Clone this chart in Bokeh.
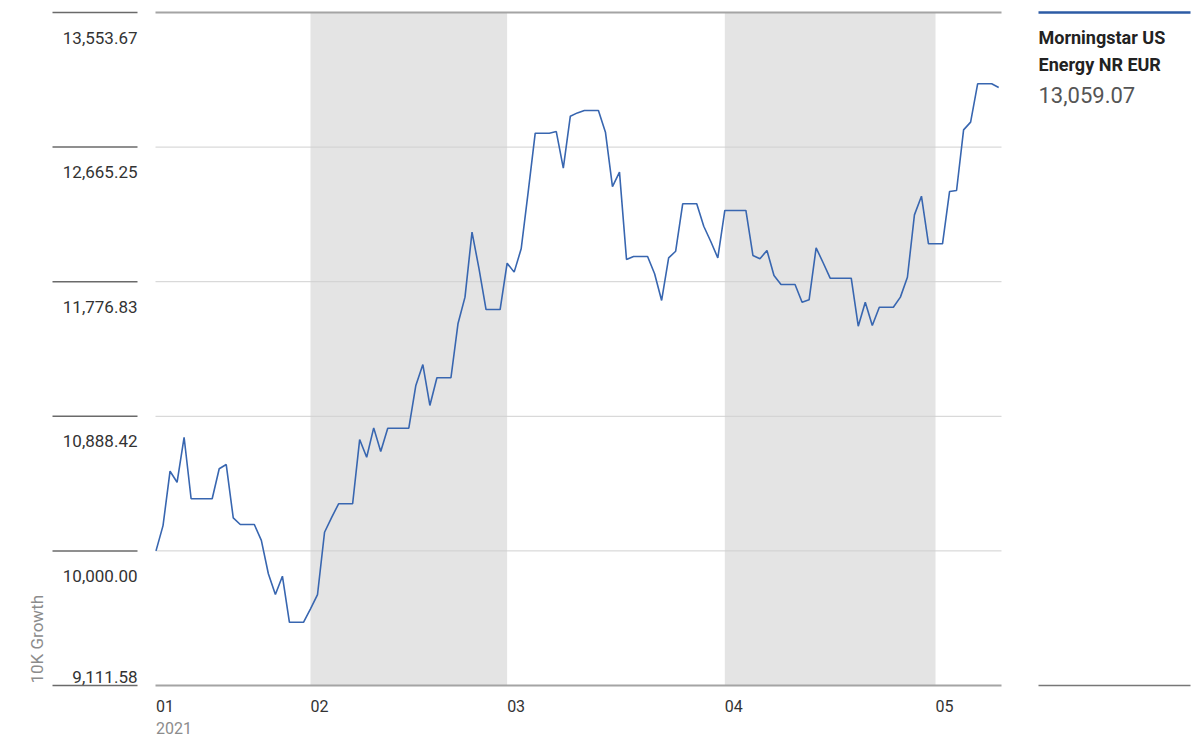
import numpy as np
import pandas as pd
from bokeh.plotting import figure
from bokeh.models import ColumnDataSource, Range1d
from bokeh.core.properties import value
from bokeh.embed import file_html
from bokeh.resources import INLINE

# ---------------- data ----------------
series_name_lines = ["Morningstar US", "Energy NR EUR"]
y_axis_title = "10K Growth"
start_date = "2021-01-10"
end_date = "2021-05-10"
# daily growth of 10K (calendar days, weekends/holidays carry the last value)
growth = [
    10000.00,
    10167, 10526, 10453, 10750, 10344, 10344, 10344,   # Jan 11-17
    10344, 10542, 10570, 10218, 10174, 10174, 10174,   # Jan 18-24
    10069, 9849, 9712, 9833, 9529, 9529, 9529,         # Jan 25-31
    9618, 9712, 10123, 10220, 10311, 10311, 10311,     # Feb 1-7
    10735, 10618, 10812, 10656, 10810, 10810, 10810,   # Feb 8-14
    10810, 11092, 11230, 10960, 11143, 11143, 11143,   # Feb 15-21
    11499, 11675, 12104, 11862, 11593, 11593, 11593,   # Feb 22-28
    11899, 11840, 11994, 12370, 12757, 12757, 12757,   # Mar 1-7
    12768, 12526, 12869, 12891, 12907, 12907, 12907,   # Mar 8-14
    12764, 12405, 12500, 11923, 11943, 11943, 11943,   # Mar 15-21
    11829, 11653, 11934, 11978, 12291, 12291, 12291,   # Mar 22-28
    12143, 12042, 11934, 12247, 12247, 12247, 12247,   # Mar 29-Apr 4
    11950, 11928, 11983, 11818, 11758, 11758, 11758,   # Apr 5-11
    11641, 11657, 12000, 11902, 11800, 11800, 11800,   # Apr 12-18
    11800, 11483, 11641, 11488, 11608, 11608, 11608,   # Apr 19-25
    11675, 11806, 12218, 12341, 12027, 12027, 12027,   # Apr 26-May 2
    12372, 12379, 12779, 12830, 13083, 13083, 13083,   # May 3-9
    13059.07,                                          # May 10
]
y_ticks = [9111.58, 10000.00, 10888.42, 11776.83, 12665.25, 13553.67]
month_starts = ["2021-01-01", "2021-02-01", "2021-03-01", "2021-04-01", "2021-05-01"]
month_labels = ["01", "02", "03", "04", "05"]
year_label = "2021"
shaded_months = [("2021-02-01", "2021-03-01"), ("2021-04-01", "2021-05-01")]

# ---------------- helpers ----------------
ORIGIN = pd.Timestamp("2021-01-01")


def to_day(d):
    return (pd.Timestamp(d) - ORIGIN).days


dates = pd.date_range(start_date, end_date, freq="D")
days = [(d - ORIGIN).days for d in dates]

# ---------------- layout (page pixels) ----------------
W, H, M = 1200, 736, 0
FONT = "Roboto"

# horizontal scale anchored on month boundaries
ax_d0, ax_p0 = to_day("2021-02-01"), 310 - M
ax_d1, ax_p1 = to_day("2021-05-01"), 935 - M
sx = (ax_p1 - ax_p0) / (ax_d1 - ax_d0)
x0 = ax_d0 - ax_p0 / sx
x1 = ax_d0 + (W - ax_p0) / sx

# vertical scale anchored on top / bottom ticks
y_hi, y_lo = max(y_ticks), min(y_ticks)
py_hi, py_lo = 12 - M, 685 - M
sy = (py_lo - py_hi) / (y_hi - y_lo)
y_top = y_hi + py_hi / sy
y_bot = y_lo - (H - py_lo) / sy


def px2x(px):
    return x0 + (px - M) / sx


def px2y(py):
    return y_top - (py - M) / sy


p = figure(width=W, height=H, x_range=Range1d(x0, x1), y_range=Range1d(y_bot, y_top),
           x_axis_type=None, y_axis_type=None, toolbar_location=None,
           output_backend="svg", min_border=0)
p.outline_line_color = None
p.background_fill_color = "white"
p.border_fill_color = "white"

gx0, gx1 = px2x(155), px2x(1001)

# shaded months
p.quad(left=[to_day(a) for a, b in shaded_months], right=[to_day(b) for a, b in shaded_months],
       bottom=y_lo, top=y_hi, fill_color="#e4e4e4", line_color=None)

# grid lines
mid = y_ticks[1:-1]
p.segment(x0=[gx0] * len(mid), x1=[gx1] * len(mid), y0=mid, y1=mid,
          line_color="#d0d0d0", line_width=1)
p.segment(x0=[gx0, gx0], x1=[gx1, gx1], y0=[y_hi, y_lo], y1=[y_hi, y_lo],
          line_color="#a4a4a4", line_width=2)

# short tick lines at the y labels
lx0, lx1 = px2x(52), px2x(137)
p.segment(x0=[lx0] * len(y_ticks), x1=[lx1] * len(y_ticks), y0=y_ticks, y1=y_ticks,
          line_color="#6a6a6a", line_width=1.5)

# y labels
ysrc = ColumnDataSource(dict(
    x=[lx1] * len(y_ticks), y=y_ticks,
    t=[f"{v:,.2f}" for v in y_ticks],
    off=[-9 if v == y_lo else 25 for v in y_ticks],
))
p.text(x="x", y="y", text="t", y_offset="off", source=ysrc, text_align="right",
       text_baseline="alphabetic", text_font=value(FONT), text_font_size="17px",
       text_color="#333333")

# y axis title
p.text(x=[px2x(36)], y=[px2y(683)], text=[y_axis_title], angle=np.pi / 2,
       text_align="left", text_baseline="middle", text_font=value(FONT),
       text_font_size="17px", text_color="#8c8c8c")

# x labels
first_day = days[0]
mx = [max(to_day(d), first_day) for d in month_starts]
p.text(x=mx, y=[y_lo] * len(mx), text=month_labels, y_offset=20, text_align="left",
       text_baseline="alphabetic", text_font=value(FONT), text_font_size="16px",
       text_color="#333333")
p.text(x=[mx[0]], y=[y_lo], text=[year_label], y_offset=42, text_align="left",
       text_baseline="alphabetic", text_font=value(FONT), text_font_size="16px",
       text_color="#8c8c8c")

# series line
p.line(days, growth, line_color="#3866b0", line_width=1.6)

# legend block on the right
kx0, kx1 = px2x(1038), px2x(1190)
p.segment(x0=[kx0], x1=[kx1], y0=[y_hi], y1=[y_hi], line_color="#2d5ba5", line_width=2.5)
p.segment(x0=[kx0], x1=[kx1], y0=[y_lo], y1=[y_lo], line_color="#777777", line_width=1.5)
p.text(x=[kx0, kx0], y=[px2y(37), px2y(64)], text=series_name_lines, text_align="left",
       text_baseline="alphabetic", text_font=value(FONT), text_font_size="18px",
       text_font_style="bold", text_color="#222222")
p.text(x=[kx0], y=[px2y(94)], text=[f"{growth[-1]:,.2f}"], text_align="left",
       text_baseline="alphabetic", text_font=value(FONT), text_font_size="22px",
       text_color="#555555")

open("out.html", "w").write(file_html(p, INLINE))
